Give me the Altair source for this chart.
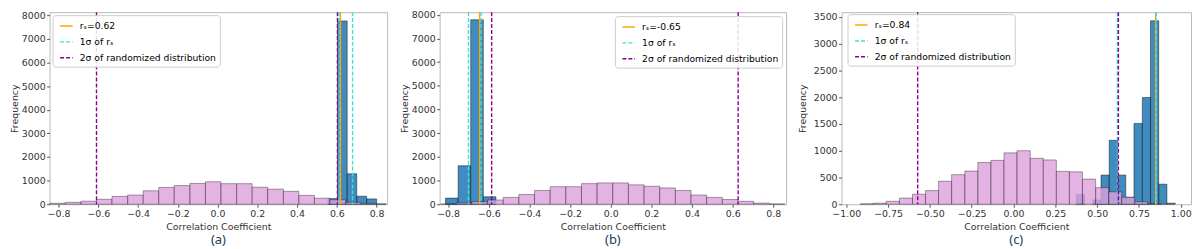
import altair as alt
import pandas as pd

# ---------------- Panel (a) ----------------
A_PINK_EDGES = [-0.844, -0.766, -0.687, -0.609, -0.531, -0.452, -0.374, -0.296, -0.218, -0.139, -0.061,
                0.017, 0.096, 0.174, 0.252, 0.331, 0.409, 0.487, 0.565, 0.644, 0.722, 0.800]
A_PINK_COUNTS = [40, 80, 130, 210, 330, 390, 570, 710, 790, 880, 950, 870, 870, 720, 640, 545, 375, 255, 190, 80, 40]
A_BLUE_EDGES = [0.555, 0.603, 0.652, 0.700, 0.750, 0.800, 0.848]
A_BLUE_COUNTS = [240, 7760, 1290, 340, 225, 15]
A_LINE_X = [0.618, 0.611, 0.679, -0.609, 0.603]
A_LINE_KIND = [0, 1, 1, 2, 2]
A_LABELS = ["rₛ=0.62", "1σ of rₛ", "2σ of randomized distribution"]

# ---------------- Panel (b) ----------------
B_PINK_EDGES = [-0.837, -0.760, -0.683, -0.606, -0.529, -0.452, -0.375, -0.298, -0.221, -0.144, -0.067,
                0.010, 0.087, 0.164, 0.241, 0.318, 0.395, 0.472, 0.549, 0.626, 0.703, 0.780, 0.857]
B_PINK_COUNTS = [8, 55, 110, 180, 290, 410, 580, 740, 740, 870, 900, 900, 820, 760, 690, 580, 390, 290, 200, 125, 48, 12]
B_BLUE_EDGES = [-0.813, -0.751, -0.689, -0.627, -0.565]
B_BLUE_COUNTS = [260, 1625, 7790, 315]
B_LINE_X = [-0.645, -0.700, -0.638, -0.586, 0.627]
B_LINE_KIND = [0, 1, 1, 2, 2]
B_LABELS = ["rₛ=-0.65", "1σ of rₛ ", "2σ of randomized distribution "]

# ---------------- Panel (c) ----------------
C_PINK_EDGES = [-0.917, -0.839, -0.761, -0.682, -0.604, -0.526, -0.448, -0.370, -0.291, -0.213, -0.135, -0.057,
                0.021, 0.100, 0.178, 0.256, 0.334, 0.412, 0.491, 0.569, 0.647, 0.725, 0.803, 0.881]
C_PINK_COUNTS = [8, 20, 55, 115, 187, 255, 430, 552, 620, 780, 820, 960, 1000, 858, 828, 615, 605, 470, 310, 232, 130, 45, 15]
C_BLUE_EDGES = [0.375, 0.424, 0.474, 0.523, 0.572, 0.622, 0.671, 0.720, 0.770, 0.819, 0.868, 0.917, 0.967]
C_BLUE_COUNTS = [180, 0, 80, 545, 1195, 545, 130, 1510, 1995, 3430, 375, 20]
C_LINE_X = [0.850, 0.621, 0.853, -0.573, 0.627]
C_LINE_KIND = [0, 1, 1, 2, 2]
C_LABELS = ["rₛ=0.84", "1σ of rₛ  ", "2σ of randomized distribution  "]

# ---------------- axes ----------------
AB_X_TICKS = [-0.8, -0.6, -0.4, -0.2, 0.0, 0.2, 0.4, 0.6, 0.8]
C_X_TICKS = [-1.0, -0.75, -0.5, -0.25, 0.0, 0.25, 0.5, 0.75, 1.0]
AB_Y_TICKS = [0, 1000, 2000, 3000, 4000, 5000, 6000, 7000, 8000]
C_Y_TICKS = [0, 500, 1000, 1500, 2000, 2500, 3000, 3500]

LINE_COLORS = ["#ffa500", "#40e0d0", "#8b008b"]
LINE_DASHES = [[1, 0], [4, 2], [4, 2]]
BLUE = "#1f77b4"
PINK = "#dda0dd"
FONT = "DejaVu Sans"

H = 194


def hist_df(edges, counts):
    df = pd.DataFrame({"x0": edges[:-1], "x1": edges[1:], "count": counts})
    return df[df["count"] > 0]


def panel(pink_e, pink_c, blue_e, blue_c, line_x, line_k, labels, xdom, ydom,
          xticks, yticks, xfmt, caption, width, legend, ytitle_pad):
    xs = alt.Scale(domain=xdom, nice=False, zero=False)
    ys = alt.Scale(domain=ydom, nice=False)
    xa = alt.Axis(values=xticks, format=xfmt, title="Correlation Coefficient", grid=False)
    ya = alt.Axis(values=yticks, format="d", title="Frequency", grid=False, titlePadding=ytitle_pad)

    blue = alt.Chart(hist_df(blue_e, blue_c)).mark_rect(
        fill=BLUE, fillOpacity=0.85, stroke="#000000", strokeOpacity=0.55, strokeWidth=0.8
    ).encode(
        x=alt.X("x0:Q", scale=xs, axis=xa), x2="x1:Q",
        y=alt.Y("count:Q", scale=ys, axis=ya), y2=alt.datum(0),
    )
    pink = alt.Chart(hist_df(pink_e, pink_c)).mark_rect(
        fill=PINK, fillOpacity=0.8, stroke="#000000", strokeOpacity=0.45, strokeWidth=0.8
    ).encode(
        x=alt.X("x0:Q", scale=xs, axis=xa), x2="x1:Q",
        y=alt.Y("count:Q", scale=ys, axis=ya), y2=alt.datum(0),
    )
    ldf = pd.DataFrame({"x": line_x, "series": [labels[k] for k in line_k]})
    rules = alt.Chart(ldf).mark_rule(strokeWidth=1.4).encode(
        x=alt.X("x:Q", scale=xs, axis=xa),
        color=alt.Color("series:N", scale=alt.Scale(domain=labels, range=LINE_COLORS), legend=legend),
        strokeDash=alt.StrokeDash("series:N", scale=alt.Scale(domain=labels, range=LINE_DASHES), legend=legend),
    )
    return alt.layer(blue, pink, rules).properties(
        width=width, height=H,
        title=alt.TitleParams(caption, orient="bottom", anchor="middle", fontSize=13,
                              font="Noto Sans", color="#21405c", fontWeight="normal", offset=3),
    )


def make_legend(**kw):
    base = dict(title=None, symbolType="stroke", symbolSize=160, symbolStrokeWidth=1.5,
                labelFont=FONT, labelFontSize=9.3, labelColor="#000000", labelLimit=400,
                rowPadding=3, padding=3.5, cornerRadius=3, fillColor="rgba(255,255,255,0.85)",
                strokeColor="#cccccc", symbolOffset=3, labelOffset=6)
    base.update(kw)
    return alt.Legend(**base)


pa = panel(A_PINK_EDGES, A_PINK_COUNTS, A_BLUE_EDGES, A_BLUE_COUNTS, A_LINE_X, A_LINE_KIND, A_LABELS,
           [-0.845, 0.853], [0, 8130], AB_X_TICKS, AB_Y_TICKS, ".1f", "(a)", 341,
           make_legend(orient="none", legendX=3, legendY=3), 2)
pb = panel(B_PINK_EDGES, B_PINK_COUNTS, B_BLUE_EDGES, B_BLUE_COUNTS, B_LINE_X, B_LINE_KIND, B_LABELS,
           [-0.842, 0.863], [0, 8110], AB_X_TICKS, AB_Y_TICKS, ".1f", "(b)", 350,
           make_legend(orient="top-right", offset=4), 2)
pc = panel(C_PINK_EDGES, C_PINK_COUNTS, C_BLUE_EDGES, C_BLUE_COUNTS, C_LINE_X, C_LINE_KIND, C_LABELS,
           [-1.028, 1.061], [0, 3590], C_X_TICKS, C_Y_TICKS, ".2f", "(c)", 353,
           make_legend(orient="none", legendX=6, legendY=2), 5.6)

chart = alt.hconcat(pa, pb, pc, spacing=10).resolve_scale(
    x="independent", y="independent", color="independent", strokeDash="independent"
).resolve_legend(color="independent", strokeDash="independent").properties(
    padding=0
).configure_view(
    stroke="#b8b8b8", strokeWidth=1
).configure_axis(
    labelFont=FONT, labelFontSize=9.5, labelColor="#333333",
    titleFont=FONT, titleFontSize=9.5, titleFontWeight="normal", titleColor="#333333",
    tickColor="#555555", tickSize=3, labelPadding=1.5, domain=False,
)

chart.save("out.html", embed_options={"renderer": "svg", "actions": False})
